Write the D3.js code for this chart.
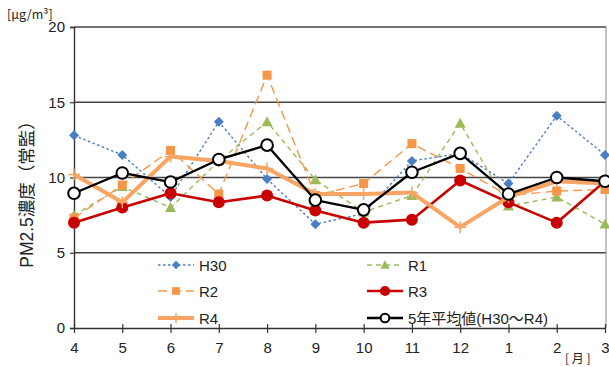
<!DOCTYPE html>
<html>
<head>
<meta charset="utf-8">
<script src="https://cdn.jsdelivr.net/npm/d3@7"></script>
<style>
  html, body { margin: 0; padding: 0; background: #fff; }
  svg { display: block; }
  text { font-family: "Liberation Sans", Arial, "Noto Sans CJK JP", sans-serif; fill: #222; }
</style>
</head>
<body>
<svg id="chart" width="609" height="367"></svg>
<script>
// Monthly PM2.5 concentrations (μg/m³), April to March
const months = ["4", "5", "6", "7", "8", "9", "10", "11", "12", "1", "2", "3"];
const yTicks = [0, 5, 10, 15, 20];

const h30 = [12.8, 11.5, 8.7, 13.7, 9.9, 6.9, 7.6, 11.1, 11.6, 9.6, 14.1, 11.5];
const r1  = [7.5, 9.4, 8.0, 11.1, 13.7, 9.85, 7.7, 8.8, 13.6, 8.1, 8.7, 6.9];
const r2  = [7.3, 9.5, 11.8, 8.9, 16.8, 8.8, 9.6, 12.25, 10.6, 8.8, 9.1, 9.2];
const r3  = [7.0, 8.0, 8.95, 8.35, 8.8, 7.8, 7.0, 7.2, 9.8, 8.35, 7.0, 9.75];
const r4  = [10.2, 8.35, 11.4, 11.1, 10.6, 8.9, 8.9, 9.0, 6.7, 8.7, 9.75, 9.6];
const avg = [8.95, 10.3, 9.7, 11.2, 12.15, 8.5, 7.85, 10.35, 11.6, 8.9, 10.0, 9.75];

const seriesNames = ["H30", "R1", "R2", "R3", "R4", "5年平均値(H30～R4)"];

const svg = d3.select("#chart");
const plotLeft = 74, plotRight = 605, plotTop = 27, plotBottom = 328;

const x = d3.scalePoint().domain(months).range([plotLeft, plotRight]).padding(0);
const y = d3.scaleLinear().domain([0, 20]).range([plotBottom, plotTop]);

// Series styles
const styles = [
  { data: h30, color: "#4A7EC4", width: 1.4, dash: "2.5,2.5", marker: "diamond", size: 5 },
  { data: r1,  color: "#9BBB59", width: 1.4, dash: "5,4",     marker: "triangle", size: 5.5 },
  { data: r2,  color: "#F79646", width: 1.4, dash: "9,5",     marker: "square", size: 4.5 },
  { data: r3,  color: "#C80000", width: 2.6, dash: null,      marker: "circle", size: 6 },
  { data: r4,  color: "#F8A462", width: 4,   dash: null,      marker: "plus", size: 6 },
  { data: avg, color: "#000000", width: 2.3, dash: null,      marker: "ring", size: 5.8 }
];

// Horizontal gridlines
svg.append("g")
  .selectAll("line")
  .data(yTicks.filter(d => d > 0))
  .join("line")
  .attr("x1", plotLeft).attr("x2", 606)
  .attr("y1", d => y(d)).attr("y2", d => y(d))
  .attr("stroke", "#444").attr("stroke-width", 1.4);

// Right border of plot area
svg.append("line")
  .attr("x1", 606).attr("x2", 606).attr("y1", y(20)).attr("y2", plotBottom)
  .attr("stroke", "#888").attr("stroke-width", 1);

// Y axis
const yAxis = svg.append("g")
  .attr("transform", `translate(${plotLeft},0)`)
  .call(d3.axisLeft(y).tickValues(yTicks).tickSize(4).tickPadding(5));
yAxis.select(".domain").attr("stroke", "#333").attr("stroke-width", 1.4);
yAxis.selectAll(".tick line").attr("stroke", "#333").attr("stroke-width", 1.2);
yAxis.selectAll(".tick text")
  .style("font-size", "15px")
  .style("font-family", "'Liberation Sans', Arial, sans-serif")
  .attr("fill", "#222");

// X axis
const xAxis = svg.append("g")
  .attr("transform", `translate(0,${plotBottom})`)
  .call(d3.axisBottom(x).tickSizeInner(5).tickSizeOuter(0).tickPadding(9));
xAxis.select(".domain").attr("stroke", "#333").attr("stroke-width", 1.4);
xAxis.selectAll(".tick line").attr("stroke", "#333").attr("stroke-width", 1.2).attr("y1", -4);
xAxis.selectAll(".tick text")
  .style("font-size", "15px")
  .style("font-family", "'Liberation Sans', Arial, sans-serif")
  .attr("fill", "#222");

// Axis titles
svg.append("text")
  .attr("transform", "translate(33,190) rotate(-90)")
  .attr("text-anchor", "middle")
  .style("font-size", "17.5px")
  .style("font-family", "'Liberation Sans', 'Noto Sans CJK JP', sans-serif")
  .text("PM2.5濃度（常監）");

svg.append("text")
  .attr("x", 7).attr("y", 19)
  .style("font-size", "12.5px")
  .style("font-family", "'Noto Sans CJK JP', sans-serif")
  .attr("fill", "#333")
  .text("[μg/m³]");

svg.append("text")
  .attr("x", 565).attr("y", 363)
  .style("font-size", "12px")
  .style("font-family", "'Noto Sans CJK JP', sans-serif")
  .attr("fill", "#333")
  .text("[ 月 ]");

// Marker drawing
function drawMarker(g, s, cx, cy, scale) {
  const k = scale || 1, r = s.size * k;
  if (s.marker === "diamond") {
    g.append("path")
      .attr("d", `M${cx},${cy - r} L${cx + r},${cy} L${cx},${cy + r} L${cx - r},${cy} Z`)
      .attr("fill", s.color);
  } else if (s.marker === "triangle") {
    g.append("path")
      .attr("d", `M${cx},${cy - r} L${cx + r},${cy + r * 0.8} L${cx - r},${cy + r * 0.8} Z`)
      .attr("fill", s.color);
  } else if (s.marker === "square") {
    g.append("rect")
      .attr("x", cx - r).attr("y", cy - r).attr("width", 2 * r).attr("height", 2 * r)
      .attr("fill", s.color);
  } else if (s.marker === "circle") {
    g.append("circle").attr("cx", cx).attr("cy", cy).attr("r", r).attr("fill", s.color);
  } else if (s.marker === "plus") {
    g.append("path")
      .attr("d", `M${cx - r},${cy} L${cx + r},${cy} M${cx},${cy - r} L${cx},${cy + r}`)
      .attr("stroke", s.color).attr("stroke-width", 1.5);
  } else if (s.marker === "ring") {
    g.append("circle").attr("cx", cx).attr("cy", cy).attr("r", r)
      .attr("fill", "#fff").attr("stroke", s.color).attr("stroke-width", 2);
  }
}

// Series lines and markers
const line = d3.line().x((d, i) => x(months[i])).y(d => y(d));
styles.forEach(s => {
  const g = svg.append("g");
  g.append("path")
    .datum(s.data)
    .attr("d", line)
    .attr("fill", "none")
    .attr("stroke", s.color)
    .attr("stroke-width", s.width)
    .attr("stroke-dasharray", s.dash)
    .attr("stroke-linejoin", "round");
  s.data.forEach((v, i) => drawMarker(g, s, x(months[i]), y(v)));
});

// Legend
const legendPos = [
  { lx: 158, ty: 265 }, { lx: 367, ty: 265 },
  { lx: 158, ty: 291 }, { lx: 367, ty: 291 },
  { lx: 158, ty: 318 }, { lx: 367, ty: 318 }
];
styles.forEach((s, i) => {
  const p = legendPos[i];
  const g = svg.append("g");
  g.append("line")
    .attr("x1", p.lx).attr("x2", p.lx + 36)
    .attr("y1", p.ty).attr("y2", p.ty)
    .attr("stroke", s.color).attr("stroke-width", s.width)
    .attr("stroke-dasharray", s.dash);
  drawMarker(g, s, p.lx + 18, p.ty, s.marker === "ring" ? 0.75 : 0.85);
  g.append("text")
    .attr("x", p.lx + 41).attr("y", p.ty + 5.5)
    .style("font-size", "15px")
    .style("font-family", "'Liberation Sans', 'Noto Sans CJK JP', sans-serif")
    .text(seriesNames[i]);
});
</script>
</body>
</html>
